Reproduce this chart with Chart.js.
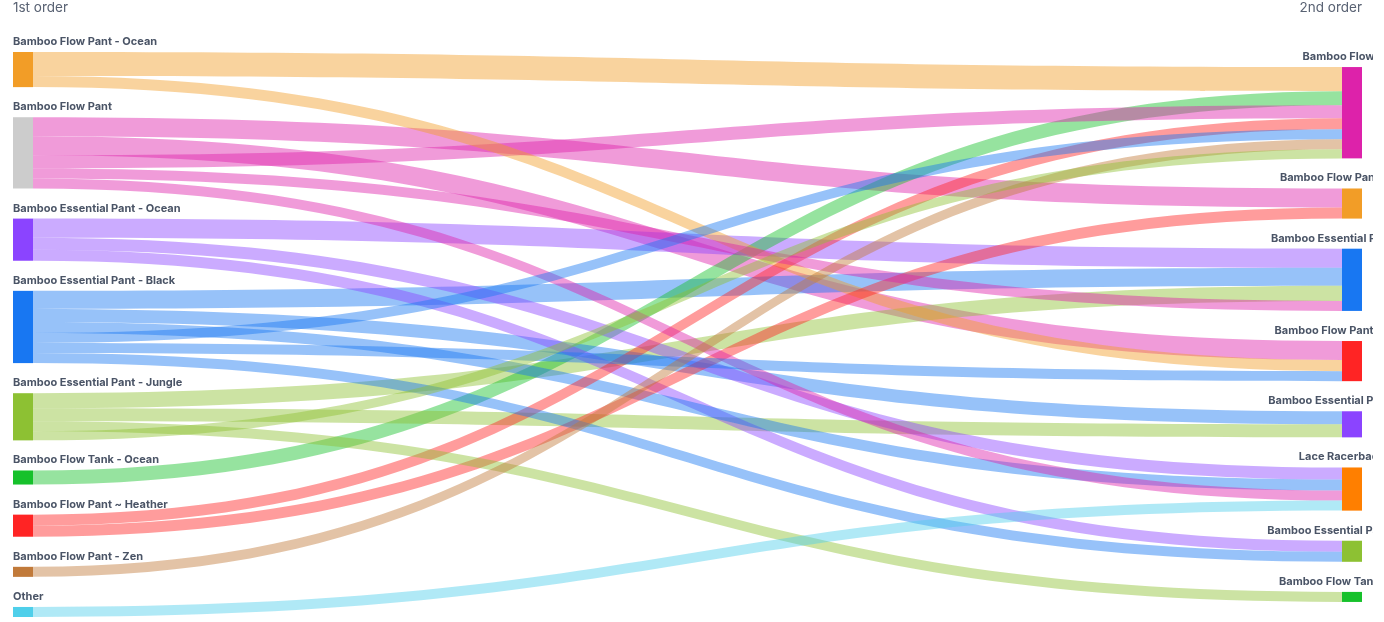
<!DOCTYPE html>
<html>
<head>
<meta charset="utf-8">
<script src="https://cdn.jsdelivr.net/npm/chart.js@4.4.1/dist/chart.umd.min.js"></script>
<style>
  html, body { margin: 0; padding: 0; background: #ffffff; }
  #wrap { width: 1373px; height: 622px; position: relative; }
</style>
</head>
<body>
<div id="wrap"><canvas id="sankey"></canvas></div>
<script>
// ==========================================
// DATA
// ==========================================
const COLUMN_TITLES = ['1st order', '2nd order'];

const LEFT_NODES = [
    'Bamboo Flow Pant - Ocean',
    'Bamboo Flow Pant',
    'Bamboo Essential Pant - Ocean',
    'Bamboo Essential Pant - Black',
    'Bamboo Essential Pant - Jungle',
    'Bamboo Flow Tank - Ocean',
    'Bamboo Flow Pant ~ Heather',
    'Bamboo Flow Pant - Zen',
    'Other'
];
const LEFT_COLORS = ['#F29D27', '#CCCCCC', '#8B44FF', '#1877F2', '#8DC133', '#16C12B', '#FF2424', '#C17A3A', '#4FCFEA'];
// flow colour per left node (product colour)
const FLOW_COLORS = ['#F29D27', '#DD22AA', '#8B44FF', '#1877F2', '#8DC133', '#16C12B', '#FF2424', '#C17A3A', '#4FCFEA'];

const RIGHT_NODES = [
    'Bamboo Flow Pant',
    'Bamboo Flow Pant - Ocean',
    'Bamboo Essential Pant - Black',
    'Bamboo Flow Pant ~ Heather',
    'Bamboo Essential Pant - Ocean',
    'Lace Racerback Bra',
    'Bamboo Essential Pant - Jungle',
    'Bamboo Flow Tank - Ocean'
];
const RIGHT_COLORS = ['#DD22AA', '#F29D27', '#1877F2', '#FF2424', '#8B44FF', '#FF7F00', '#8DC133', '#16C12B'];

// flows: source index (left), target index (right), number of customers
const FLOW_FROM  = [0, 0,  1, 1, 1, 1, 1,  2, 2, 2,  3, 3, 3, 3, 3, 3,  4, 4, 4, 4,  5,  6, 6,  7,  8];
const FLOW_TO    = [0, 3,  1, 3, 0, 2, 5,  2, 5, 6,  2, 4, 5, 0, 3, 6,  2, 4, 7, 0,  0,  0, 1,  0,  5];
const FLOW_VALUE = [24, 11, 19, 19, 13, 10, 10, 19, 12, 11, 18, 13, 11, 10, 10, 10, 15, 13, 10, 9, 14, 11, 11, 10, 10];

// ==========================================
// STYLE
// ==========================================
const NODE_GAP = 30;      // in value units
const NODE_W = 20;        // px
const FLOW_ALPHA = 0.45;
const LABEL_FONT = '700 11px Inter, "Noto Sans", sans-serif';
const TITLE_FONT = '400 13.5px Inter, "Noto Sans", sans-serif';
const LABEL_COLOR = '#4A5466';
const TITLE_COLOR = '#596273';

function hexToRgba(hex, a) {
    const n = parseInt(hex.slice(1), 16);
    return `rgba(${(n >> 16) & 255},${(n >> 8) & 255},${n & 255},${a})`;
}

function sumBy(idxArr, key) {
    const out = new Array(key).fill(0);
    idxArr.forEach((k, i) => { out[k] += FLOW_VALUE[i]; });
    return out;
}

const LEFT_TOTALS = sumBy(FLOW_FROM, LEFT_NODES.length);
const RIGHT_TOTALS = sumBy(FLOW_TO, RIGHT_NODES.length);

function columnSpan(totals) {
    return totals.reduce((a, b) => a + b, 0) + NODE_GAP * (totals.length - 1);
}
const Y_MAX = Math.max(columnSpan(LEFT_TOTALS), columnSpan(RIGHT_TOTALS));

// node tops in value units, column centred vertically
function layoutColumn(totals) {
    let y = (Y_MAX - columnSpan(totals)) / 2;
    return totals.map(v => { const top = y; y += v + NODE_GAP; return top; });
}

// links sorted by size (stable), stacked in that order at both ends
const ORDER = FLOW_VALUE.map((v, i) => i).sort((a, b) => FLOW_VALUE[b] - FLOW_VALUE[a]);

const sankeyPlugin = {
    id: 'sankey',
    afterDatasetsDraw(chart) {
        const ctx = chart.ctx;
        const xs = chart.scales.x;
        const ys = chart.scales.y;

        const leftTop = layoutColumn(LEFT_TOTALS);
        const rightTop = layoutColumn(RIGHT_TOTALS);
        const leftOff = LEFT_TOTALS.map(() => 0);
        const rightOff = RIGHT_TOTALS.map(() => 0);

        const xl0 = xs.getPixelForValue(0);
        const xl1 = xl0 + NODE_W;
        const xr1 = xs.getPixelForValue(1);
        const xr0 = xr1 - NODE_W;
        const xm = (xl1 + xr0) / 2;

        ctx.save();

        // flows
        ORDER.forEach(i => {
            const s = FLOW_FROM[i], t = FLOW_TO[i], v = FLOW_VALUE[i];
            const sy0 = ys.getPixelForValue(leftTop[s] + leftOff[s]);
            const sy1 = ys.getPixelForValue(leftTop[s] + leftOff[s] + v);
            const ty0 = ys.getPixelForValue(rightTop[t] + rightOff[t]);
            const ty1 = ys.getPixelForValue(rightTop[t] + rightOff[t] + v);
            leftOff[s] += v;
            rightOff[t] += v;

            ctx.beginPath();
            ctx.moveTo(xl1, sy0);
            ctx.bezierCurveTo(xm, sy0, xm, ty0, xr0, ty0);
            ctx.lineTo(xr0, ty1);
            ctx.bezierCurveTo(xm, ty1, xm, sy1, xl1, sy1);
            ctx.closePath();
            ctx.fillStyle = hexToRgba(FLOW_COLORS[s], FLOW_ALPHA);
            ctx.fill();
        });

        // nodes + labels
        ctx.font = LABEL_FONT;
        ctx.textBaseline = 'alphabetic';

        LEFT_NODES.forEach((name, i) => {
            const top = ys.getPixelForValue(leftTop[i]);
            const bot = ys.getPixelForValue(leftTop[i] + LEFT_TOTALS[i]);
            ctx.fillStyle = LEFT_COLORS[i];
            ctx.fillRect(xl0, top, NODE_W, bot - top);
            ctx.fillStyle = LABEL_COLOR;
            ctx.textAlign = 'left';
            ctx.fillText(name, xl0, top - 7);
        });

        RIGHT_NODES.forEach((name, i) => {
            const top = ys.getPixelForValue(rightTop[i]);
            const bot = ys.getPixelForValue(rightTop[i] + RIGHT_TOTALS[i]);
            ctx.fillStyle = RIGHT_COLORS[i];
            ctx.fillRect(xr0, top, NODE_W, bot - top);
            ctx.fillStyle = LABEL_COLOR;
            ctx.textAlign = 'center';
            ctx.fillText(name, (xr0 + xr1) / 2, top - 7);
        });

        // column titles
        ctx.font = TITLE_FONT;
        ctx.fillStyle = TITLE_COLOR;
        ctx.textAlign = 'left';
        ctx.fillText(COLUMN_TITLES[0], xl0, 12);
        ctx.textAlign = 'right';
        ctx.fillText(COLUMN_TITLES[1], xr1, 12);

        ctx.restore();
    }
};

new Chart(document.getElementById('sankey'), {
    type: 'scatter',
    data: { datasets: [{ data: [] }] },
    options: {
        responsive: true,
        maintainAspectRatio: false,
        animation: false,
        events: [],
        layout: { padding: { top: 52, left: 13, right: 11, bottom: 5 } },
        scales: {
            x: { type: 'linear', min: 0, max: 1, display: false },
            y: { type: 'linear', min: 0, max: Y_MAX, reverse: true, display: false }
        },
        plugins: { legend: { display: false }, tooltip: { enabled: false } }
    },
    plugins: [sankeyPlugin]
});
</script>
</body>
</html>
